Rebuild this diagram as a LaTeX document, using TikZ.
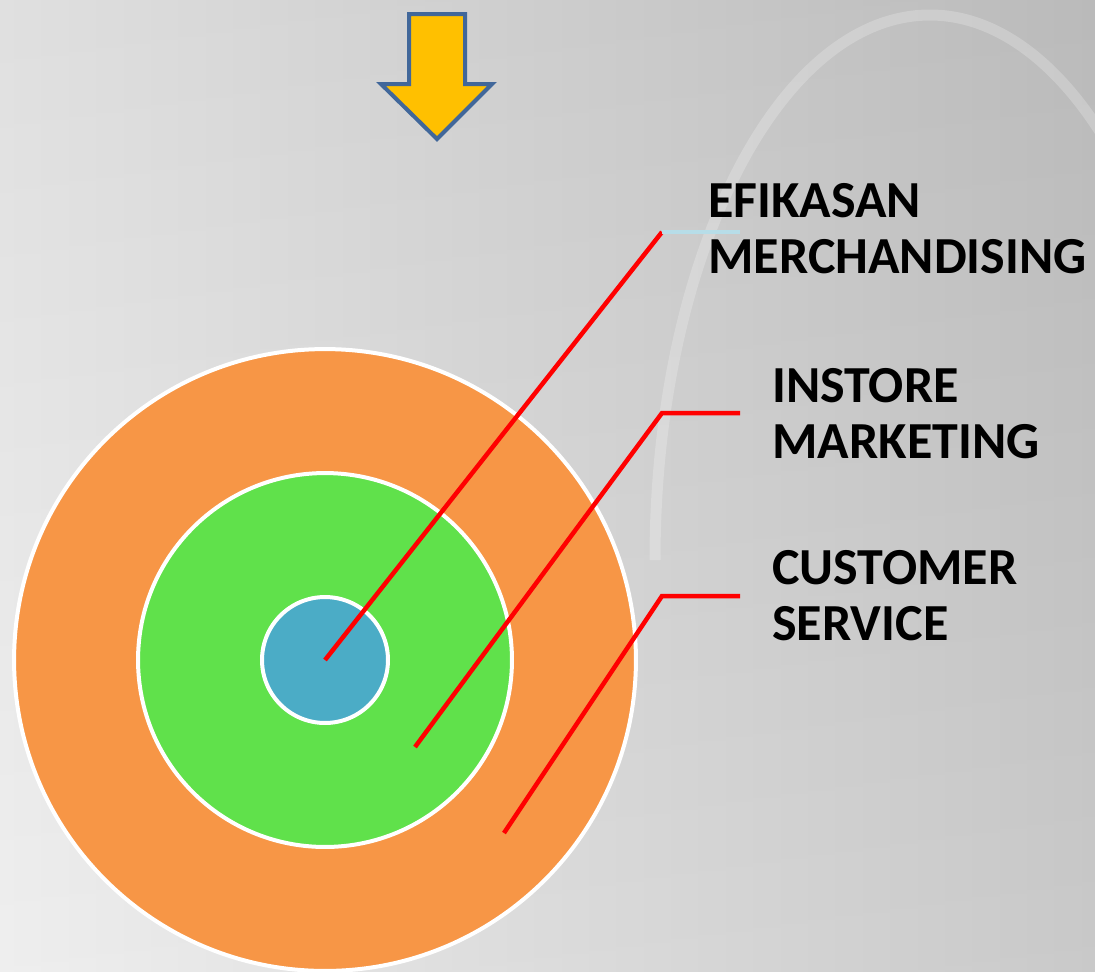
\documentclass[tikz,border=0pt]{standalone}
\usepackage{fontspec}
\usepackage{tikz}
\newfontfamily\labelfont{Carlito}
\definecolor{ringorange}{HTML}{F79646}
\definecolor{ringgreen}{HTML}{60E14B}
\definecolor{ringblue}{HTML}{4BACC6}
\definecolor{arrowgold}{HTML}{FFC000}
\definecolor{arrowedge}{HTML}{41679A}
\definecolor{leadred}{HTML}{FF0000}
\definecolor{leadpale}{HTML}{B7DDE8}
\definecolor{bgleft}{HTML}{EEEEEE}
\definecolor{bgright}{HTML}{C6C6C6}

\begin{document}
\begin{tikzpicture}[x=0.02cm, y=-0.02cm,
    ring/.style={circle, draw=white, line width=0.08cm, inner sep=0pt},
    leader/.style={draw=leadred, line width=0.09cm},
    tag/.style={anchor=base west, inner sep=0pt, align=left,
        font=\labelfont\bfseries\fontsize{29.6}{31.8}\selectfont}]

                    % background
                    \shade[left color=bgleft, right color=bgright] (0,0) rectangle (1095,971);
                    \shade[top color=black, bottom color=white, opacity=0.06] (0,0) rectangle (1095,971);
                    \useasboundingbox (0,0) rectangle (1095,971);
                    \draw[white, opacity=0.22, line width=0.22cm] (655,560) arc[start angle=180, end angle=335, x radius=275, y radius=545];

                    % arrow on top
                    \draw[fill=arrowgold, draw=arrowedge, line width=0.08cm, line join=miter]
                        (409,14) -- (465,14) -- (465,84) -- (492,84) -- (437,139) -- (381,84) -- (409,84) -- cycle;

                    % rings
                    \foreach \name/\col/\size in {
                        outer/ringorange/12.44cm,
                        middle/ringgreen/7.48cm,
                        inner/ringblue/2.52cm
                    } {
                        \node[ring, fill=\col, minimum size=\size] (\name) at (325,660) {};
                    };

                    % labels
                    \node[tag] (merch) at (708,273) {EFIKASAN\\MERCHANDISING};
                    \node[tag] (instore) at (772,458) {INSTORE\\MARKETING};
                    \node[tag] (service) at (772,640) {CUSTOMER\\SERVICE};

                    % leader lines
                    \coordinate (bendA) at (662,232);
                    \coordinate (endA) at (740,232);
                    \draw[leader] (inner.center) -- (bendA);
                    \draw[leadpale, line width=0.09cm] (bendA) -- (endA);

                    \foreach \tag/\fx/\fy/\by in {
                        B/415/747/413,
                        C/504/833/596
                    } {
                        \coordinate (foot\tag) at (\fx,\fy);
                        \coordinate (bend\tag) at (662,\by);
                        \coordinate (end\tag) at (740,\by);
                        \draw[leader] (foot\tag) -- (bend\tag) -- (end\tag);
                    };

\end{tikzpicture}
\end{document}
